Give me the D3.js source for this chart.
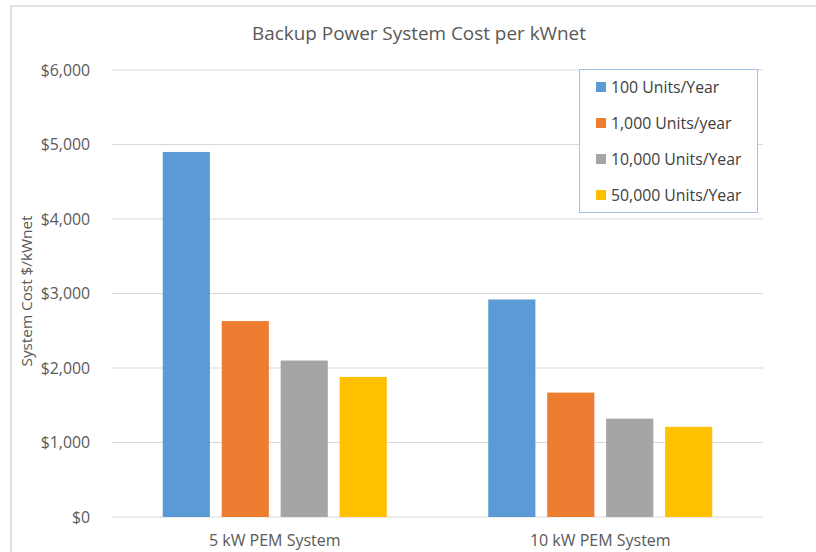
<!DOCTYPE html>
<html><head><meta charset="utf-8">
<script src="https://cdn.jsdelivr.net/npm/d3@7"></script>
<style>
body{margin:0;background:#fff;}
svg{display:block;font-family:"Open Sans",sans-serif;}
</style></head>
<body><svg id="chart" width="816" height="552"></svg>
<script>
const categories = ["5 kW PEM System", "10 kW PEM System"];
const seriesNames = ["100 Units/Year", "1,000 Units/year", "10,000 Units/Year", "50,000 Units/Year"];
const units100 = [4900, 2920];
const units1000 = [2630, 1670];
const units10000 = [2100, 1320];
const units50000 = [1880, 1210];
const yTicks = [0, 1000, 2000, 3000, 4000, 5000, 6000];
const colors = ["#5b9bd5", "#ed7d31", "#a5a5a5", "#ffc000"];
const title = "Backup Power System Cost per kWnet";
const yTitle = "System Cost $/kWnet";

const seriesValues = [units100, units1000, units10000, units50000];
const svg = d3.select("#chart");
const m = {left: 112, right: 763, top: 70, bottom: 517};
const FF = "'Open Sans', sans-serif";

// frame
svg.append("path").attr("d", `M11,552V6H816`).attr("fill","none").attr("stroke","#d9d9d9").attr("stroke-width",1.5);

const y = d3.scaleLinear().domain([0, 6000]).range([m.bottom, m.top]);
const x0 = d3.scaleBand().domain(categories).range([m.left, m.right]).padding(0);
const outer = 50.75;
const x1 = d3.scaleBand().domain(d3.range(seriesNames.length))
  .range([outer, x0.bandwidth() - outer]).paddingInner(0.2).paddingOuter(0);

// gridlines
svg.append("g").selectAll("line").data(yTicks).join("line")
  .attr("x1", m.left).attr("x2", m.right)
  .attr("y1", d => y(d)).attr("y2", d => y(d))
  .attr("stroke", "#d9d9d9").attr("stroke-width", 1);

// y axis labels
const yAxis = d3.axisLeft(y).tickValues(yTicks).tickSize(0).tickPadding(0)
  .tickFormat(d => "$" + d3.format(",")(d));
const ya = svg.append("g").attr("transform", `translate(90,0)`).call(yAxis);
ya.select(".domain").remove();
ya.attr("font-family", FF).attr("font-size", 15.8);
ya.selectAll("text").attr("fill", "#595959");

// bars
const groups = svg.append("g").selectAll("g").data(categories).join("g")
  .attr("transform", d => `translate(${x0(d)},0)`);
groups.selectAll("rect").data((c, ci) => seriesValues.map((s, si) => ({si, v: s[ci]})))
  .join("rect")
  .attr("x", d => x1(d.si)).attr("width", x1.bandwidth())
  .attr("y", d => y(d.v)).attr("height", d => y(0) - y(d.v))
  .attr("fill", d => colors[d.si]);

// x axis labels
const xAxis = d3.axisBottom(x0).tickSize(0).tickPadding(0);
const xa = svg.append("g").attr("transform", `translate(0,${m.bottom + 18})`).call(xAxis);
xa.select(".domain").remove();
xa.attr("font-family", FF).attr("font-size", 16);
xa.selectAll("text").attr("fill", "#595959");

// title
svg.append("text").attr("x", 419).attr("y", 40).attr("text-anchor", "middle")
  .attr("font-family", FF).attr("font-size", 18.9).attr("fill", "#595959").text(title);

// y title
svg.append("text").attr("transform", "translate(32,291) rotate(-90)")
  .attr("text-anchor", "middle").attr("font-family", FF).attr("font-size", 15.3).attr("fill", "#595959").text(yTitle);

// legend
const lg = svg.append("g");
lg.append("rect").attr("x", 579.5).attr("y", 69.5).attr("width", 178).attr("height", 143)
  .attr("fill", "#fff").attr("stroke", "#9dc3e6").attr("stroke-width", 1);
const items = lg.selectAll("g.item").data(seriesNames).join("g").attr("class", "item")
  .attr("transform", (d, i) => `translate(596,${87 + i * 36})`);
items.append("rect").attr("x", 0).attr("y", -5).attr("width", 10).attr("height", 10)
  .attr("fill", (d, i) => colors[i]);
items.append("text").attr("x", 15).attr("y", 5.5).attr("font-family", FF).attr("font-size", 15.8)
  .attr("fill", "#404040").text(d => d);
</script></body></html>
